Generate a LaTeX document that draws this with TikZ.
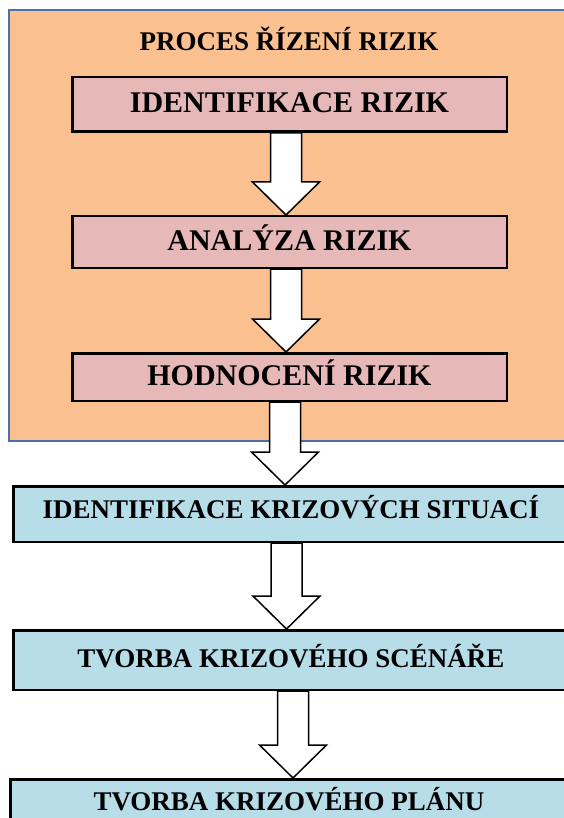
\documentclass[tikz,border=0pt]{standalone}
\usepackage{fontspec}
\setmainfont{Liberation Serif}
\usetikzlibrary{calc}

\definecolor{panelfill}{HTML}{FAC090}
\definecolor{panelline}{HTML}{4A72A8}
\definecolor{riskfill}{HTML}{E6B9B8}
\definecolor{crisisfill}{HTML}{B7DDE8}

\pgfdeclarelayer{panellayer}
\pgfdeclarelayer{arrowlayer}
\pgfsetlayers{panellayer,arrowlayer,main}

\tikzset{
  panel/.style={draw=panelline, line width=2pt, fill=panelfill, inner sep=0pt},
  paneltitle/.style={font=\fontsize{27}{32}\selectfont\bfseries, inner sep=0pt,
    text height=18pt, text depth=0pt},
  riskbox/.style={draw=black, line width=2.5pt, fill=riskfill, inner sep=0pt,
    minimum width=434.5pt, font=\fontsize{30}{36}\selectfont\bfseries,
    text height=20pt, text depth=4pt},
  crisisbox/.style={draw=black, line width=2.5pt, fill=crisisfill, inner sep=0pt,
    minimum width=555.5pt, font=\fontsize{27}{32}\selectfont\bfseries,
    text height=18pt, text depth=4pt},
  blockarrow/.style={draw=black, line width=1.5pt, fill=white, line join=miter},
}

% hollow downward block arrow from the bottom of #1 to the top of #2,
% shifted sideways by #3
\newcommand\blockdown[3]{%
  \path[blockarrow] let \p1=($(#1.south)+(#3,0)$), \p2=(#2.north) in
    (\x1-15.5pt,\y1) -- (\x1+15.5pt,\y1) -- (\x1+15.5pt,\y2+33pt)
    -- (\x1+33.5pt,\y2+33pt) -- (\x1,\y2) -- (\x1-33.5pt,\y2+33pt)
    -- (\x1-15.5pt,\y2+33pt) -- cycle;}

\begin{document}
\begin{tikzpicture}[x=1pt, y=-1pt]
  \useasboundingbox (0,0) rectangle (563,818);

  % risk management panel
  \begin{pgfonlayer}{panellayer}
    \node[panel, minimum width=561pt, minimum height=431pt] (panel) at (289.5,225.5) {};
  \end{pgfonlayer}
  \node[paneltitle] (title) at (289,41.5) {PROCES ŘÍZENÍ RIZIK};

  % risk steps
  \node[riskbox, minimum height=54.5pt] (r1) at (289.5,104.5) {IDENTIFIKACE RIZIK};
  \node[riskbox, minimum height=51.5pt] (r2) at (289.5,242) {ANALÝZA RIZIK};
  \node[riskbox, minimum height=47.5pt] (r3) at (289.5,377) {HODNOCENÍ RIZIK};

  % crisis steps
  \node[crisisbox, minimum height=55.5pt, text depth=9pt] (c1) at (291,514) {IDENTIFIKACE KRIZOVÝCH SITUACÍ};
  \node[crisisbox, minimum height=59.5pt] (c2) at (291,660) {TVORBA KRIZOVÉHO SCÉNÁŘE};
  \node[crisisbox, minimum height=55.5pt, minimum width=557.5pt, text depth=12pt] (c3) at (289,807) {TVORBA KRIZOVÉHO PLÁNU};

  % connectors
  \begin{pgfonlayer}{arrowlayer}
    \blockdown{r1}{r2}{-3.5}
    \blockdown{r2}{r3}{-3.5}
    \blockdown{r3}{c1}{-4.5}
    \blockdown{c1}{c2}{-4.5}
    \blockdown{c2}{c3}{2}
  \end{pgfonlayer}
\end{tikzpicture}
\end{document}
